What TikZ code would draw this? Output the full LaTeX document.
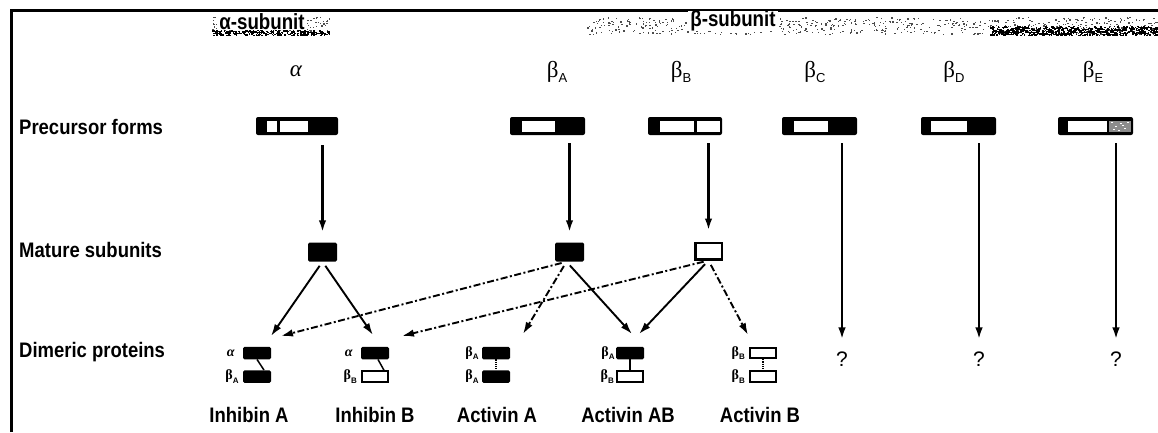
\documentclass[tikz,border=0pt]{standalone}
\usepackage{fontspec}
\setmainfont{Liberation Serif}
\setsansfont{Liberation Sans}
\usetikzlibrary{arrows.meta,calc}

% Greek subunit symbol with a small sans subscript
\newcommand\sub[2]{#1\raisebox{-0.45ex}{\sffamily\fontsize{13}{13}\selectfont #2}}
\newcommand\tinysub[2]{#1\raisebox{-0.5ex}{\sffamily\bfseries\fontsize{8}{8}\selectfont #2}}
\newcommand\nlbl[1]{\scalebox{0.88}[1]{#1}}

\begin{document}
\begin{tikzpicture}[x=1pt,y=-1pt,
  rowlbl/.style={font=\sffamily\bfseries\fontsize{21}{23}\selectfont, anchor=west, inner sep=0},
  protname/.style={font=\sffamily\bfseries\fontsize{21}{23}\selectfont, inner sep=0},
  greek/.style={font=\rmfamily\fontsize{23}{25}\selectfont, inner sep=0},
  hdr/.style={font=\sffamily\bfseries\fontsize{22}{24}\selectfont, inner sep=0},
  minilbl/.style={font=\rmfamily\bfseries\fontsize{14}{14}\selectfont, inner sep=0, anchor=east},
  pbar/.style={minimum width=#1, minimum height=18pt, inner sep=0, fill=black, rounded corners=2pt},
  mblack/.style={minimum width=29pt, minimum height=19pt, inner sep=0, fill=black, rounded corners=1.5pt},
  mwhite/.style={minimum width=26.5pt, minimum height=16.5pt, inner sep=0, fill=white, draw=black, line width=2.5pt},
  dblack/.style={minimum width=28pt, minimum height=12.5pt, inner sep=0, fill=black, rounded corners=1.5pt},
  dwhite/.style={minimum width=26pt, minimum height=10.5pt, inner sep=0, fill=white, draw=black, line width=2pt},
  solidarr/.style={line width=1.9pt, -{Latex[length=12pt,width=7.5pt]}},
  vertarr/.style={solidarr, line width=2.4pt},
  dasharr/.style={solidarr, dash pattern=on 7pt off 2.5pt on 2pt off 2.5pt},
  speck/.style={fill=black!70}
]
\useasboundingbox (0,0) rectangle (1158,432);
\fill[white] (0,0) rectangle (1158,432);

% frame
\draw[line width=3pt] (11,432) -- (11,10) -- (1158,10);

% speckled header bands
\pgfmathsetseed{11}
\foreach \i in {1,...,170}{
  \pgfmathsetmacro\xx{212+rnd*118}
  \pgfmathsetmacro\yy{17+rnd*14}
  \fill[speck] (\xx,\yy) rectangle ++(1.4,1.2);
}
\foreach \i in {1,...,260}{
  \pgfmathsetmacro\xx{212+rnd*118}
  \pgfmathsetmacro\yy{30+rnd*5}
  \fill[black] (\xx,\yy) rectangle ++(1.6,1.4);
}
\foreach \i in {1,...,650}{
  \pgfmathsetmacro\xx{584+rnd*574}
  \pgfmathsetmacro\yy{17+rnd*17}
  \fill[speck] (\xx,\yy) rectangle ++(1.4,1.2);
}
\foreach \i in {1,...,700}{
  \pgfmathsetmacro\xx{990+rnd*168}
  \pgfmathsetmacro\yy{26+rnd*9}
  \fill[black] (\xx,\yy) rectangle ++(1.6,1.4);
}
\node[hdr, fill=white, inner xsep=2pt, inner ysep=0pt] (ha) at (262,22) {\scalebox{0.85}[1]{α-subunit}};
\node[hdr, fill=white, inner xsep=2pt, inner ysep=0pt] (hb) at (733,21) {\scalebox{0.85}[1]{β-subunit}};

% subunit symbols
\node[greek] (ga) at (296,71) {\itshape α};
\node[greek] (gba) at (557,72) {\sub{β}{A}};
\node[greek] (gbb) at (681,72) {\sub{β}{B}};
\node[greek] (gbc) at (815,72) {\sub{β}{C}};
\node[greek] (gbd) at (954,72) {\sub{β}{D}};
\node[greek] (gbe) at (1093,72) {\sub{β}{E}};

% row labels
\node[rowlbl] (rp) at (19,127) {\nlbl{Precursor forms}};
\node[rowlbl] (rm) at (19,250) {\nlbl{Mature subunits}};
\node[rowlbl] (rd) at (19,352) {\nlbl{Dimeric proteins}};

% precursor forms
\node[pbar=82pt] (pa) at (297,126) {};
\fill[white] (267,120.5) rectangle (277,131.5);
\fill[white] (280,120.5) rectangle (308,131.5);
\node[pbar=75pt] (pba) at (547.5,126) {};
\fill[white] (522,120.5) rectangle (555,131.5);
\node[pbar=74pt] (pbb) at (685,126) {};
\fill[white] (660,120.5) rectangle (694,131.5);
\fill[white] (697,120.5) rectangle (719.5,131.5);
\node[pbar=75pt] (pbc) at (819.5,126) {};
\fill[white] (794,120.5) rectangle (828,131.5);
\node[pbar=75pt] (pbd) at (958.5,126) {};
\fill[white] (931,120.5) rectangle (967,131.5);
\node[pbar=75pt] (pbe) at (1095.5,126) {};
\fill[white] (1068,120.5) rectangle (1107,131.5);
\fill[black!45] (1109,120.5) rectangle (1130.5,131.5);
\foreach \xx/\yy in {1111/122,1115/126,1120/123,1124/128,1127/122,1113/129,1118/130,1122/125}
  \fill[white] (\xx,\yy) rectangle ++(1.6,1.4);

% mature subunits
\node[mblack] (ma) at (322.5,252) {};
\node[mblack] (mba) at (569.5,252) {};
\node[mwhite] (mbb) at (708.5,251) {};

% precursor to mature
\draw[vertarr, shorten <=10pt, shorten >=10pt] (pa.south -| ma.north) -- (ma.north);
\draw[vertarr, shorten <=8pt, shorten >=10pt] (pba.south -| mba.north) -- (mba.north);
\draw[vertarr, shorten <=8pt, shorten >=11pt] (pbb.south -| mbb.north) -- (mbb.north);

% unknown dimers
\node[protname, font=\sffamily\fontsize{21}{23}\selectfont] (qc) at (842,359) {?};
\node[protname, font=\sffamily\fontsize{21}{23}\selectfont] (qd) at (979,359) {?};
\node[protname, font=\sffamily\fontsize{21}{23}\selectfont] (qe) at (1116,359) {?};
\draw[vertarr, shorten <=8pt, shorten >=12pt] (pbc.south -| qc.north) -- (qc.north);
\draw[vertarr, shorten <=8pt, shorten >=12pt] (pbd.south -| qd.north) -- (qd.north);
\draw[vertarr, shorten <=8pt, shorten >=12pt] (pbe.south -| qe.north) -- (qe.north);

% dimeric proteins
\node[dblack] (iat) at (257,353) {};
\node[dblack] (iab) at (257,376.5) {};
\draw[line width=1.5pt] (iat.south) -- ([xshift=7pt]iab.north);
\node[minilbl] at ([xshift=-8pt]iat.west) {\itshape α};
\node[minilbl] at ([xshift=-4pt]iab.west) {\tinysub{β}{A}};

\node[dblack] (ibt) at (375,353) {};
\node[dwhite] (ibb) at (375,376.5) {};
\draw[line width=1.5pt] ([xshift=3pt]ibt.south) -- ([xshift=9pt]ibb.north);
\node[minilbl] at ([xshift=-8pt]ibt.west) {\itshape α};
\node[minilbl] at ([xshift=-4pt]ibb.west) {\tinysub{β}{B}};

\node[dblack] (aat) at (496,353) {};
\node[dblack] (aab) at (496,376.5) {};
\draw[line width=1.2pt, densely dotted] (aat.south) -- (aab.north);
\node[minilbl] at ([xshift=-3pt]aat.west) {\tinysub{β}{A}};
\node[minilbl] at ([xshift=-3pt]aab.west) {\tinysub{β}{A}};

\node[dblack] (abt) at (630,353) {};
\node[dwhite] (abb) at (630,376.5) {};
\draw[line width=1.8pt] (abt.south) -- (abb.north);
\node[minilbl] at ([xshift=-1pt]abt.west) {\tinysub{β}{A}};
\node[minilbl] at ([xshift=-2pt]abb.west) {\tinysub{β}{B}};

\node[dwhite] (bbt) at (763,353) {};
\node[dwhite] (bbb) at (763,376.5) {};
\draw[line width=1.2pt, densely dotted] (bbt.south) -- (bbb.north);
\node[minilbl] at ([xshift=-4pt]bbt.west) {\tinysub{β}{B}};
\node[minilbl] at ([xshift=-4pt]bbb.west) {\tinysub{β}{B}};

% protein names
\node[protname] (nia) at (249,415) {\nlbl{Inhibin A}};
\node[protname] (nib) at (375,415) {\nlbl{Inhibin B}};
\node[protname] (naa) at (497,415) {\nlbl{Activin A}};
\node[protname] (nab) at (628,415) {\nlbl{Activin AB}};
\node[protname] (nbb) at (760,415) {\nlbl{Activin B}};

% arrow targets above the dimers
\coordinate (tia1) at (271,336);
\coordinate (tia2) at (281,336);
\coordinate (tib1) at (373,335);
\coordinate (tib2) at (402,336);
\coordinate (taa) at (523,334);
\coordinate (tab1) at (632,334);
\coordinate (tab2) at (639,334);
\coordinate (tbb) at (748,335);

% mature subunits to dimers
\draw[solidarr, shorten <=5pt] (ma.south) -- (tia1);
\draw[solidarr, shorten <=5pt] (ma.south) -- (tib1);
\draw[dasharr, shorten <=5pt] ([xshift=-3pt]mba.south) -- (tia2);
\draw[dasharr, shorten <=5pt] ([xshift=-3pt]mba.south) -- (taa);
\draw[solidarr, shorten <=5pt] ([xshift=-3pt]mba.south) -- (tab1);
\draw[dasharr, shorten <=5pt] (mbb.south) -- (tib2);
\draw[solidarr, shorten <=5pt] (mbb.south) -- (tab2);
\draw[dasharr, shorten <=5pt] (mbb.south) -- (tbb);
\end{tikzpicture}
\end{document}
